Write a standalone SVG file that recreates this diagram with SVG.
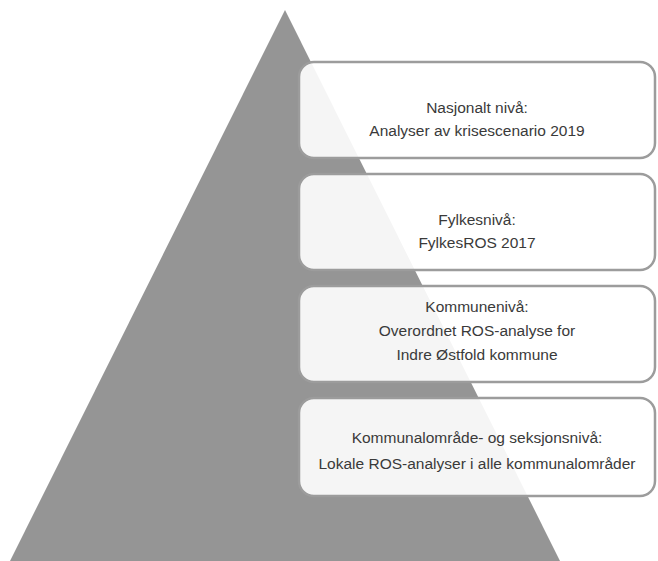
<svg xmlns="http://www.w3.org/2000/svg" width="658" height="561" viewBox="0 0 658 561">
<style>
.box{fill:#ffffff;fill-opacity:0.9;stroke:#9c9c9c;stroke-width:2.5}
.t{font-family:"Liberation Sans",Arial,sans-serif;font-size:15.5px;fill:#3a3a3a;text-anchor:middle}
</style>
<rect width="658" height="561" fill="#ffffff"/>
<polygon id="pyramid" points="285,10 560,561 10,561" fill="#959595"/>
<g id="node-nasjonalt">
<rect class="box" x="299" y="62" width="356" height="96" rx="15"/>
<text class="t" x="477" y="113">Nasjonalt nivå:</text>
<text class="t" x="477" y="136">Analyser av krisescenario 2019</text>
</g>
<g id="node-fylke">
<rect class="box" x="299" y="174" width="356" height="96" rx="15"/>
<text class="t" x="477" y="225">Fylkesnivå:</text>
<text class="t" x="477" y="248">FylkesROS 2017</text>
</g>
<g id="node-kommune">
<rect class="box" x="299" y="286" width="356" height="96" rx="15"/>
<text class="t" x="477" y="312">Kommunenivå:</text>
<text class="t" x="477" y="336">Overordnet ROS-analyse for</text>
<text class="t" x="477" y="360">Indre Østfold kommune</text>
</g>
<g id="node-kommunalomrade">
<rect class="box" x="299" y="398" width="356" height="98" rx="15"/>
<text class="t" x="477" y="443">Kommunalområde- og seksjonsnivå:</text>
<text class="t" x="477" y="469">Lokale ROS-analyser i alle kommunalområder</text>
</g>
<g id="connectors"></g>
</svg>
